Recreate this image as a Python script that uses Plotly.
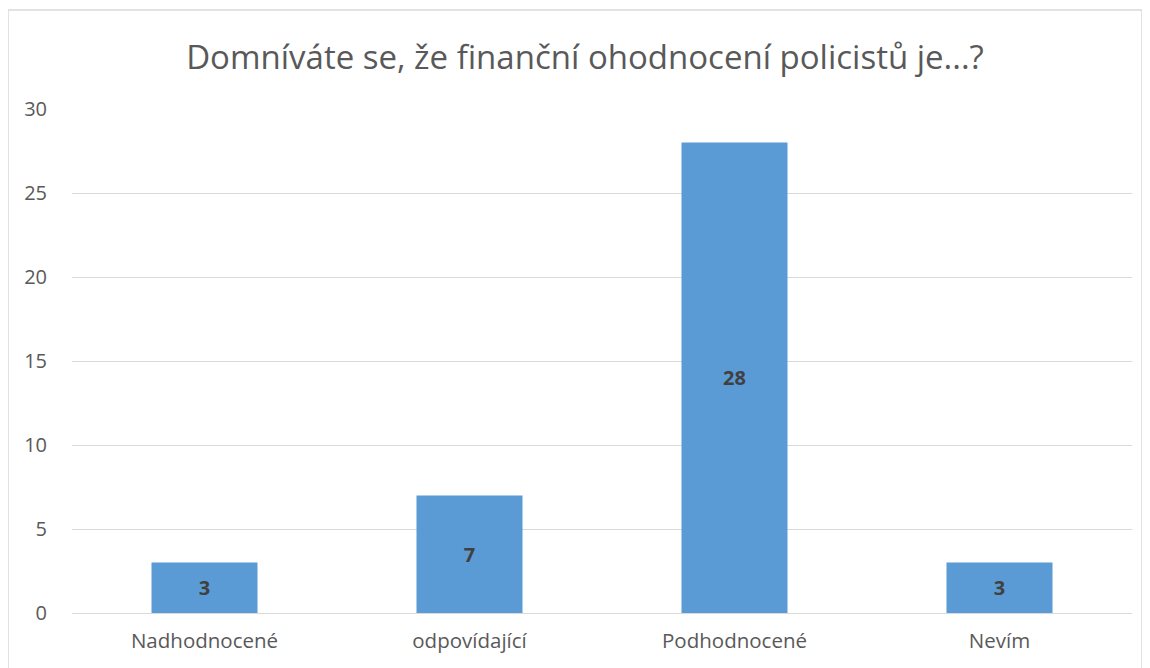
import plotly.graph_objects as go

categories = ["Nadhodnocené", "odpovídající", "Podhodnocené", "Nevím"]
values = [3, 7, 28, 3]
y_ticks = [0, 5, 10, 15, 20, 25, 30]

OFF = 8  # page body margin
W, H = 1150 - OFF, 668 - OFF
L, R, T, B = 72 - OFF, 1132 - OFF, 109 - OFF, 613 - OFF

fig = go.Figure(go.Bar(
    x=categories, y=values,
    marker=dict(color="#5B9BD5", line=dict(width=0)),
    text=[str(v) for v in values],
    textposition="inside", insidetextanchor="middle",
    textfont=dict(family="Open Sans", size=20, color="#404040", weight="bold"),
    textangle=0,
    width=0.4,
))

def px_x(p):
    return (p - OFF - L) / (R - L)

def px_y(p):
    return (B - (p - OFF)) / (B - T)

fig.update_layout(
    width=W, height=H,
    margin=dict(l=L, r=W - R, t=T, b=H - B),
    paper_bgcolor="white", plot_bgcolor="white",
    title=dict(text="Domníváte se, že finanční ohodnocení policistů je...?",
               x=(585 - OFF) / W, xanchor="center", xref="container",
               y=1 - (57 - OFF) / H, yanchor="middle", yref="container",
               font=dict(family="Open Sans", size=33, color="#595959")),
    showlegend=False,
    font=dict(family="Open Sans", color="#595959"),
    xaxis=dict(showgrid=False, showline=False, ticks="",
               tickfont=dict(size=20.5, color="#595959"), ticklabelstandoff=13),
    yaxis=dict(range=[0, 30], tickvals=y_ticks, showgrid=True, gridcolor="#D9D9D9",
               gridwidth=1, zeroline=True, zerolinecolor="#D9D9D9", zerolinewidth=1,
               showline=False, ticks="", tickfont=dict(size=20, color="#595959"),
               ticklabelstandoff=24),
    shapes=[dict(type="rect", xref="paper", yref="paper",
                 x0=px_x(8), x1=px_x(1142), y0=px_y(668 + 5), y1=px_y(10),
                 line=dict(color="#D9D9D9", width=1.5), fillcolor="rgba(0,0,0,0)",
                 layer="below")],
)

fig.write_html("out.html")
